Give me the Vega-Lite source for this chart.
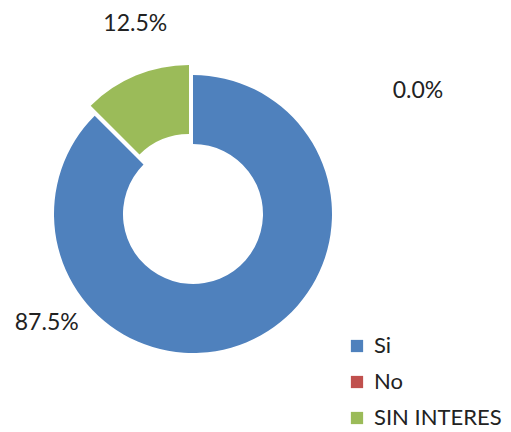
{
  "$schema": "https://vega.github.io/schema/vega-lite/v6.json",
  "autosize": "none",
  "width": 386,
  "height": 428,
  "padding": {"left": 0, "top": 0, "right": 125, "bottom": 4},
  "background": "white",
  "config": {"view": {"stroke": null}, "text": {"font": "Lato"}},
  "data": {"values": [
    {"cat": "Si", "value": 0.875},
    {"cat": "No", "value": 0.0},
    {"cat": "SIN INTERES", "value": 0.125}
  ]},
  "transform": [
    {"stack": "value", "groupby": [], "as": ["v0", "v1"], "sort": [{"field": "cat", "order": "descending"}]},
    {"calculate": "(datum.v0 + datum.v1) / 2", "as": "vmid"}
  ],
  "encoding": {
    "color": {
      "field": "cat", "type": "nominal",
      "scale": {"domain": ["Si", "No", "SIN INTERES"], "range": ["#4F81BD", "#C0504D", "#9BBB59"]},
      "legend": {
        "orient": "none", "legendX": 346, "legendY": 335, "title": null,
        "symbolType": "square", "symbolSize": 150, "symbolStrokeWidth": 0,
        "labelFont": "Lato", "labelFontSize": 22, "labelColor": "#222222",
        "rowPadding": 14, "labelOffset": 6
      }
    }
  },
  "layer": [
    {
      "transform": [{"filter": "datum.cat !== 'SIN INTERES'"}],
      "mark": {"type": "arc", "outerRadius": 139, "innerRadius": 70},
      "encoding": {
        "theta": {"field": "v0", "type": "quantitative", "scale": {"domain": [0, 1], "range": [0, 6.283185307]}},
        "theta2": {"field": "v1"}
      }
    },
    {
      "transform": [{"filter": "datum.cat === 'SIN INTERES'"}],
      "mark": {"type": "arc", "outerRadius": 139, "innerRadius": 70, "xOffset": -4, "yOffset": -10},
      "encoding": {
        "theta": {"field": "v0", "type": "quantitative"},
        "theta2": {"field": "v1"}
      }
    },
    {
      "transform": [{"filter": "datum.cat === 'Si'"}],
      "mark": {"type": "text", "fontSize": 23, "color": "#222222", "dx": -219, "dy": -67},
      "encoding": {
        "theta": {"field": "vmid", "type": "quantitative"},
        "radius": {"value": 190},
        "text": {"field": "value", "type": "quantitative", "format": ".1%"},
        "color": {"value": "#222222"}
      }
    },
    {
      "transform": [{"filter": "datum.cat === 'No'"}],
      "mark": {"type": "text", "fontSize": 23, "color": "#222222", "dx": 225, "dy": 67},
      "encoding": {
        "theta": {"field": "vmid", "type": "quantitative"},
        "radius": {"value": 190},
        "text": {"field": "value", "type": "quantitative", "format": ".1%"},
        "color": {"value": "#222222"}
      }
    },
    {
      "transform": [{"filter": "datum.cat === 'SIN INTERES'"}],
      "mark": {"type": "text", "fontSize": 23, "color": "#222222", "dx": 15, "dy": -14},
      "encoding": {
        "theta": {"field": "vmid", "type": "quantitative"},
        "radius": {"value": 190},
        "text": {"field": "value", "type": "quantitative", "format": ".1%"},
        "color": {"value": "#222222"}
      }
    }
  ]
}
